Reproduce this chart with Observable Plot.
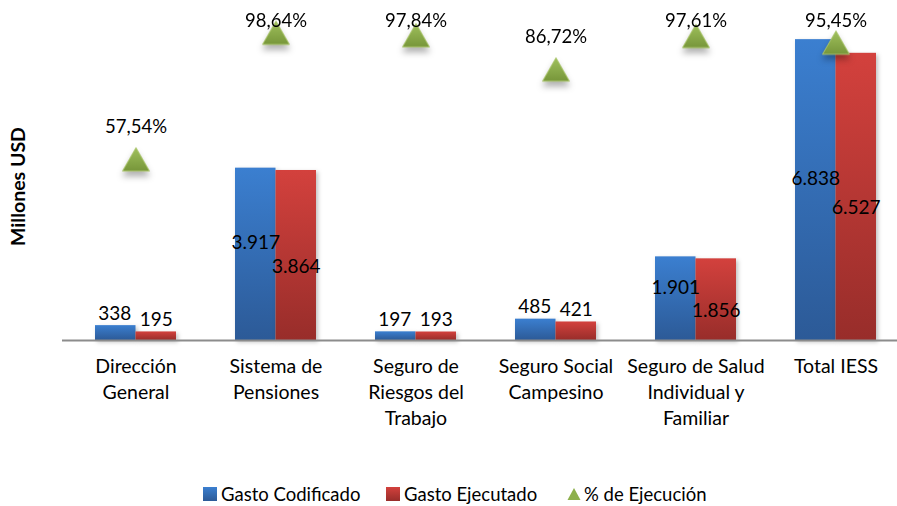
<!DOCTYPE html>
<html><head><meta charset="utf-8">
<script src="https://cdn.jsdelivr.net/npm/d3@7"></script>
<script src="https://cdn.jsdelivr.net/npm/@observablehq/plot@0.6"></script>
<style>
body{margin:0;background:#fff;font-family:Lato,"Open Sans",sans-serif;}
#chart{width:897px;height:506px;position:relative;overflow:hidden;}
#legend{position:absolute;left:0;top:482px;width:897px;height:24px;font-size:18.5px;color:#000;}
#legend .it{position:absolute;top:0;height:24px;display:flex;align-items:center;white-space:nowrap;}
#legend .sw{width:14px;height:14px;margin-right:4px;}
.bars{filter:drop-shadow(2px 2px 2px rgba(0,0,0,0.25));}
.tri{filter:drop-shadow(0px 5px 3px rgba(0,0,0,0.3));}
</style></head>
<body><div id="chart"></div>
<script>
const categories = ["Dirección\nGeneral", "Sistema de\nPensiones", "Seguro de\nRiesgos del\nTrabajo", "Seguro Social\nCampesino", "Seguro de Salud\nIndividual y\nFamiliar", "Total IESS"];
const gastoCodificado = [338, 3917, 197, 485, 1901, 6838];
const gastoEjecutado = [195, 3864, 193, 421, 1856, 6527];
const ejecucion = [0.5754, 0.9864, 0.9784, 0.8672, 0.9761, 0.9545];
const seriesNames = ["Gasto Codificado", "Gasto Ejecutado", "% de Ejecución"];
const yTitle = "Millones USD";

const locale = d3.formatLocale({decimal: ",", thousands: ".", grouping: [3], currency: ["$", ""]});
const fmtNum = locale.format(",d");
const fmtPct = locale.format(".2%");

const YMAX = 7000;
const rows = categories.map((c, i) => ({cat: c, cod: gastoCodificado[i], eje: gastoEjecutado[i], pct: ejecucion[i]}));

const half = 40.5;
const FONT = "Lato, 'Open Sans', sans-serif";

const chart = Plot.plot({
  width: 897,
  height: 475,
  marginLeft: 62,
  marginRight: 0,
  marginTop: 32,
  marginBottom: 135,
  style: {fontFamily: FONT, background: "#fff", color: "#000", overflow: "visible"},
  x: {domain: categories, range: [62.6, 907.4], paddingInner: 0.425, paddingOuter: 0.2125, label: null},
  y: {domain: [0, YMAX], axis: null},
  marks: [
    Plot.barY(rows, {x: "cat", y: "cod", insetRight: half, fill: "url(#gBlue)", className: "bars"}),
    Plot.barY(rows, {x: "cat", y: "eje", insetLeft: half, fill: "url(#gRed)", className: "bars"}),
    Plot.ruleY([0], {stroke: "#8c8c8c", strokeWidth: 2}),
    Plot.text(rows.filter(d => d.cod < 1000), {x: "cat", y: "cod", dy: -12, dx: -half / 2 - 1, text: d => fmtNum(d.cod), fontSize: 19, fill: "#000"}),
    Plot.text(rows.filter(d => d.cod >= 1000), {x: "cat", y: d => d.cod / 2, dy: -11, dx: -half / 2, text: d => fmtNum(d.cod), fontSize: 19, fill: "#000"}),
    Plot.text(rows.filter(d => d.eje < 1000), {x: "cat", y: "eje", dy: -12, dx: half / 2, text: d => fmtNum(d.eje), fontSize: 19, fill: "#000"}),
    Plot.text(rows.filter(d => d.eje >= 1000), {x: "cat", y: d => d.eje / 2, dy: 11, dx: half / 2, text: d => fmtNum(d.eje), fontSize: 19, fill: "#000"}),
    Plot.dot(rows, {x: "cat", y: d => d.pct * YMAX, symbol: "triangle", r: 10, fill: "url(#gGreen)", stroke: "#a9c46a", strokeWidth: 1, className: "tri"}),
    Plot.text(rows, {x: "cat", y: d => Math.min(d.pct * YMAX + 820, 7270), text: d => fmtPct(d.pct), fontSize: 18.5, fill: "#000"}),
    Plot.text([yTitle], {frameAnchor: "left", textAnchor: "middle", rotate: -90, dx: -44, fontSize: 19.5, fontWeight: "bold", fill: "#000"}),
    Plot.axisX({tickSize: 0, tickPadding: 14, fontSize: 19.5, lineHeight: 1.33, fill: "#000", label: null})
  ]
});
chart.insertAdjacentHTML("afterbegin", `<defs>
  <linearGradient id="gBlue" x1="0" y1="0" x2="0" y2="1"><stop offset="0" stop-color="#3b7fd0"/><stop offset="1" stop-color="#2c5a97"/></linearGradient>
  <linearGradient id="gRed" x1="0" y1="0" x2="0" y2="1"><stop offset="0" stop-color="#d3413d"/><stop offset="1" stop-color="#982d2a"/></linearGradient>
  <linearGradient id="gGreen" x1="0" y1="0" x2="0" y2="1"><stop offset="0" stop-color="#9fc05c"/><stop offset="1" stop-color="#77963a"/></linearGradient>
</defs>`);
const container = document.getElementById("chart");
container.appendChild(chart);

const legend = document.createElement("div");
legend.id = "legend";
const swatches = [
  '<div class="sw" style="background:linear-gradient(#3b7fd0,#2c5a97)"></div>',
  '<div class="sw" style="background:linear-gradient(#d3413d,#982d2a)"></div>',
  '<svg width="14" height="14" style="margin-right:3px"><polygon points="7,1 13.5,13 0.5,13" fill="#8db04c"/></svg>'
];
const legendLeft = [203, 386, 567];
legend.innerHTML = seriesNames.map((n, i) => `<div class="it" style="left:${legendLeft[i]}px">${swatches[i]}<span>${n}</span></div>`).join("");
container.appendChild(legend);
</script>
</body></html>
